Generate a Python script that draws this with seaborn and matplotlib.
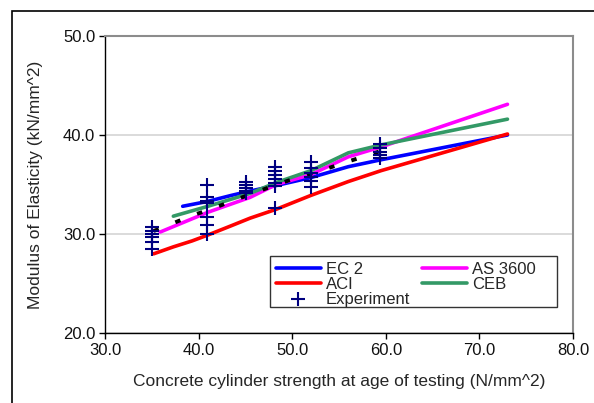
import numpy as np
import pandas as pd
import matplotlib
matplotlib.use("Agg")
import matplotlib.pyplot as plt
import seaborn as sns
from matplotlib.patches import Rectangle

# ---- data ----
ec2_x = [38.3, 41.0, 43.5, 45.3, 48.3, 52.0, 56.0, 59.5, 73.0]
ec2_y = [32.8, 33.3, 33.9, 34.3, 34.9, 35.7, 36.8, 37.5, 40.0]

aci_x = [35.2, 37.3, 39.3, 41.0, 43.4, 45.5, 48.3, 52.0, 56.0, 59.5, 73.0]
aci_y = [28.0, 28.7, 29.3, 29.9, 30.8, 31.6, 32.5, 33.9, 35.3, 36.4, 40.1]

as3600_x = [35.9, 41.0, 45.5, 48.3, 52.0, 56.0, 59.5, 73.0]
as3600_y = [30.2, 32.2, 33.7, 35.0, 36.0, 37.8, 38.8, 43.1]

ceb_x = [37.3, 41.0, 45.5, 48.3, 52.0, 56.0, 59.5, 73.0]
ceb_y = [31.8, 32.8, 34.1, 35.2, 36.4, 38.2, 39.0, 41.6]

trend_x = [35.2, 37.3, 39.4, 41.3, 43.5, 45.5, 47.5, 49.6, 51.7, 53.7, 55.9, 57.9, 59.5]
trend_y = [30.3, 31.1, 31.9, 32.5, 33.3, 34.0, 34.7, 35.4, 36.0, 36.6, 37.3, 37.9, 38.4]

exp_x = [35.0] * 6 + [40.9] * 7 + [45.1] * 5 + [48.2] * 7 + [52.0] * 6 + [59.4] * 5
exp_y = [30.7, 30.3, 30.0, 29.7, 29.2, 28.5,
         34.9, 33.7, 33.3, 33.1, 31.7, 30.9, 30.0,
         35.3, 34.9, 34.6, 34.3, 34.1,
         36.8, 36.4, 36.0, 35.6, 35.2, 34.8, 32.6,
         37.3, 36.7, 36.2, 35.8, 35.4, 34.7,
         39.1, 38.7, 38.3, 38.0, 37.7]

x_ticks = [30.0, 40.0, 50.0, 60.0, 70.0, 80.0]
y_ticks = [20.0, 30.0, 40.0, 50.0]

# ---- style ----
sns.set_style("white")
plt.rcParams['font.family'] = ['Liberation Sans', 'DejaVu Sans']

W, H = 594, 403
fig = plt.figure(figsize=(W/100, H/100), dpi=100)
L, R, T, B = 105, 573, 36, 333
ax = fig.add_axes([L/W, 1-B/H, (R-L)/W, (B-T)/H])

def ax_xy(px, py):
    return ((px - L) / (R - L), (B - py) / (B - T))

lw = 2.6
sns.lineplot(x=ec2_x, y=ec2_y, ax=ax, color="#0000ff", lw=lw, sort=False, label="EC 2")
sns.lineplot(x=aci_x, y=aci_y, ax=ax, color="#ff0000", lw=lw, sort=False, label="ACI")
sns.lineplot(x=as3600_x, y=as3600_y, ax=ax, color="#ff00ff", lw=lw, sort=False, label="AS 3600")
sns.lineplot(x=ceb_x, y=ceb_y, ax=ax, color="#339966", lw=lw, sort=False, label="CEB")
sns.lineplot(x=trend_x, y=trend_y, ax=ax, color="black", lw=2.8, sort=False,
             linestyle=(0, (1.4, 4.6)), legend=False)
sns.scatterplot(x=exp_x, y=exp_y, ax=ax, marker="+", s=110, color="#000080",
                linewidth=1.5, label="Experiment", zorder=5)

ax.set_xlim(30, 80)
ax.set_ylim(20, 50)
ax.set_xticks(x_ticks)
ax.set_yticks(y_ticks)
ax.set_xticklabels([f"{v:.1f}" for v in x_ticks])
ax.set_yticklabels([f"{v:.1f}" for v in y_ticks])
ax.tick_params(axis='both', direction='out', length=4, width=1, color='black',
               labelsize=12, labelcolor='#111111', pad=3)
ax.tick_params(axis='both', which='both', bottom=True, left=True)
ax.yaxis.grid(True, color='#d4d4d4', lw=1.2)
ax.set_axisbelow(True)

for s in ['left', 'bottom']:
    ax.spines[s].set_color('black')
    ax.spines[s].set_linewidth(1.0)
for s in ['top', 'right']:
    ax.spines[s].set_color('#8c8c8c')
    ax.spines[s].set_linewidth(1.5)

ax.set_xlabel("Concrete cylinder strength at age of testing (N/mm^2)", fontsize=12.5, labelpad=12)
ax.set_ylabel("Modulus of Elasticity (kN/mm^2)", fontsize=12.5, labelpad=14)

# legend frame drawn separately (fixed size as in reference)
x0, y0 = ax_xy(270, 307)
x1, y1 = ax_xy(557, 256)
ax.add_patch(Rectangle((x0, y0), x1 - x0, y1 - y0, transform=ax.transAxes,
                       facecolor='white', edgecolor='#333333', lw=1.0, zorder=6))

h, l = ax.get_legend_handles_labels()
d = dict(zip(l, h))
order = ["EC 2", "ACI", "Experiment", "AS 3600", "CEB"]
lx, ly = ax_xy(270, 256)
leg = ax.legend([d[k] for k in order], order, ncol=2, loc='upper left',
                bbox_to_anchor=(lx, ly), fontsize=12, frameon=False,
                borderpad=0.35, labelspacing=0.0,
                handlelength=2.7, handletextpad=0.3, columnspacing=0.7, borderaxespad=0)
leg.set_zorder(7)

# outer frame of the chart
fig.patches.append(Rectangle((12/W, -0.05), 1.0, 1 - 11/H + 0.05,
                             transform=fig.transFigure, fill=False,
                             edgecolor='black', lw=1.2))

fig.savefig("out.png", dpi=100)
